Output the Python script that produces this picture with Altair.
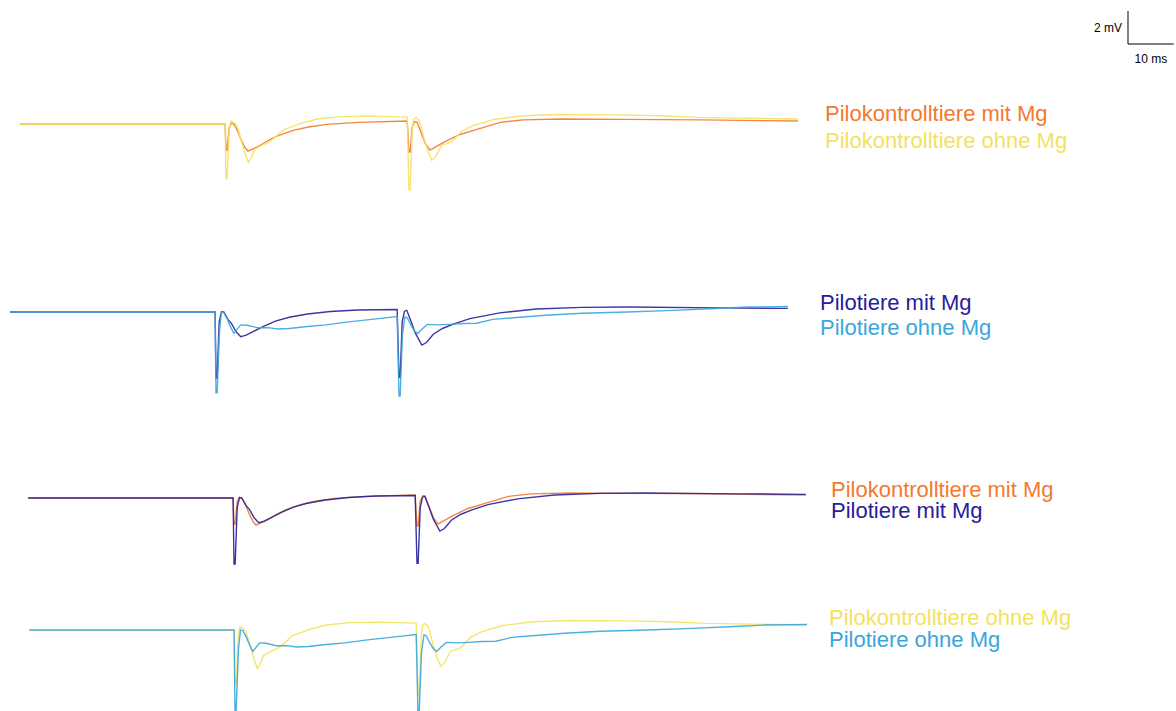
import altair as alt
import pandas as pd

# Paired-pulse field potentials (stimuli at 0 ms and 40 ms), averaged traces.
# Times in ms after the first stimulus, amplitudes in mV relative to baseline.

KONTROLLE_MIT_T = [-45, -0.2, 0, 0.25, 0.7, 1.2, 1.7, 2.5, 3.3, 4.1, 4.8, 6.0, 7.5, 9.2, 11.0,
                   14.5, 18.0, 22.0, 29.0, 39.6, 40.0, 40.25, 40.7, 41.3, 41.8, 42.6, 43.6, 44.6,
                   46.0, 48.0, 51.0, 54.5, 60.0, 65.0, 73.0, 87.0, 104.0, 125.0]
KONTROLLE_MIT_V = [0, 0, -1.6, -1.6, -0.2, 0.05, 0.0, -0.4, -0.95, -1.4, -1.64, -1.5, -1.3, -1.0, -0.75,
                   -0.4, -0.18, -0.02, 0.1, 0.18, -1.7, -1.7, -0.2, 0.15, 0.1, -0.5, -1.2, -1.58,
                   -1.35, -1.05, -0.65, -0.36, 0.1, 0.25, 0.3, 0.28, 0.25, 0.18]

KONTROLLE_OHNE_T = [-45, -0.2, 0, 0.25, 0.7, 1.1, 1.7, 2.4, 3.2, 4.2, 4.9, 5.6, 6.2, 7.8, 9.4, 11.0,
                    12.5, 16.5, 20.0, 25.0, 31.5, 39.6, 40.0, 40.25, 40.7, 41.0, 41.6, 42.3, 43.4,
                    44.2, 45.0, 45.9, 47.1, 49.3, 51.5, 54.0, 58.5, 65.0, 73.0, 85.0, 95.0, 103.0, 125.0]
KONTROLLE_OHNE_V = [0, 0, -3.3, -3.3, -0.3, 0.18, 0.12, -0.1, -0.85, -1.8, -2.33, -2.0, -1.55, -1.3, -1.1, -0.75,
                    -0.35, 0.05, 0.3, 0.45, 0.48, 0.42, -4.0, -4.0, -0.4, 0.3, 0.4, 0.18, -1.0,
                    -1.7, -2.2, -1.95, -1.3, -1.08, -0.45, -0.1, 0.27, 0.5, 0.58, 0.55, 0.5, 0.4, 0.3]

PILO_MIT_T = [-45, -0.2, 0, 0.25, 0.7, 1.2, 1.7, 2.6, 3.4, 4.4, 5.4, 6.6, 8.0, 10.5, 13.0, 16.0,
              20.0, 25.0, 31.0, 39.6, 40.0, 40.25, 40.7, 41.2, 41.7, 42.6, 43.6, 45.0, 46.0, 47.5,
              49.5, 52.0, 55.5, 62.0, 70.0, 80.0, 90.0, 110.0, 125.0]
PILO_MIT_V = [0, 0, -4.0, -4.0, -0.6, 0.02, 0.0, -0.45, -0.7, -1.2, -1.5, -1.4, -1.2, -0.85, -0.55, -0.32,
              -0.12, 0.03, 0.12, 0.15, -3.95, -3.95, -0.6, 0.05, 0.1, -0.55, -1.3, -2.0, -1.85, -1.35,
              -1.0, -0.72, -0.4, -0.05, 0.18, 0.28, 0.3, 0.25, 0.22]

PILO_OHNE_T = [-45, -0.2, 0, 0.25, 0.75, 1.2, 1.7, 2.5, 3.2, 3.9, 4.6, 5.4, 6.8, 9.0, 11.4, 13.5,
               16.0, 20.0, 24.0, 29.0, 34.0, 39.6, 40.0, 40.25, 40.75, 41.3, 41.8, 42.6, 43.4, 44.1,
               45.0, 46.2, 48.5, 51.0, 54.0, 57.0, 60.5, 65.0, 72.0, 80.0, 90.0, 100.0, 108.0, 116.0, 125.0]
PILO_OHNE_V = [0, 0, -4.9, -4.9, -1.2, 0.0, -0.03, -0.45, -0.9, -1.3, -1.05, -0.78, -0.8, -0.95, -0.95, -1.03,
               -1.0, -0.88, -0.78, -0.6, -0.45, -0.28, -5.1, -5.1, -1.4, -0.3, -0.35, -0.8, -1.15, -1.3,
               -1.05, -0.75, -0.78, -0.75, -0.7, -0.68, -0.45, -0.35, -0.2, -0.08, 0.0, 0.1, 0.2, 0.3, 0.33]

GROUPS = ["Pilokontrolltiere mit Mg", "Pilokontrolltiere ohne Mg", "Pilotiere mit Mg", "Pilotiere ohne Mg"]
TRACES = {
    GROUPS[0]: (KONTROLLE_MIT_T, KONTROLLE_MIT_V),
    GROUPS[1]: (KONTROLLE_OHNE_T, KONTROLLE_OHNE_V),
    GROUPS[2]: (PILO_MIT_T, PILO_MIT_V),
    GROUPS[3]: (PILO_OHNE_T, PILO_OHNE_V),
}
COLORS = {
    GROUPS[0]: "#f4792e",
    GROUPS[1]: "#f3e25e",
    GROUPS[2]: "#27209a",
    GROUPS[3]: "#3aa6dc",
}

SCALE_MS = 10
SCALE_MV = 2

# page geometry
W = 1176
PX_PER_MS = 4.575
PX_PER_MV = 16.5
FONT = "Liberation Sans"


def scales(stim_px, top_px, height):
    xs = alt.Scale(domain=[-stim_px / PX_PER_MS, (W - stim_px) / PX_PER_MS], nice=False, zero=False)
    ys = alt.Scale(domain=[-(height - top_px) / PX_PER_MV, top_px / PX_PER_MV], nice=False, zero=False)
    return xs, ys


def panel(groups, stim_px, top_px, height, label_x, label_ys):
    xs, ys = scales(stim_px, top_px, height)
    layers = []
    for g in groups:
        t, v = TRACES[g]
        df = pd.DataFrame({"t": t, "v": v})
        layers.append(
            alt.Chart(df).mark_line(color=COLORS[g], strokeWidth=1.4, opacity=0.9, clip=False).encode(
                x=alt.X("t:Q", scale=xs, axis=None),
                y=alt.Y("v:Q", scale=ys, axis=None),
            )
        )
    label_order = [g for g in GROUPS if g in groups]
    for g, ly in zip(label_order, label_ys):
        layers.append(
            alt.Chart(pd.DataFrame({"name": [g]})).mark_text(
                align="left", baseline="middle", font=FONT, fontSize=22, color=COLORS[g]
            ).encode(x=alt.value(label_x), y=alt.value(ly), text="name:N")
        )
    return alt.layer(*layers).properties(width=W, height=height)


# scale bar row
bar_xs, bar_ys = scales(1128, 44, 80)
bar_df = pd.DataFrame({"t": [0, 0], "t2": [0, SCALE_MS], "v": [0, 0], "v2": [SCALE_MV, 0]})
bar = alt.Chart(bar_df).mark_rule(color="black", strokeWidth=1).encode(
    x=alt.X("t:Q", scale=bar_xs, axis=None),
    x2="t2:Q",
    y=alt.Y("v:Q", scale=bar_ys, axis=None),
    y2="v2:Q",
)
bar_labels = pd.DataFrame({
    "t": [-1.3, SCALE_MS / 2],
    "v": [SCALE_MV / 2, -0.9],
    "txt": [f"{SCALE_MV} mV", f"{SCALE_MS} ms"],
    "al": ["right", "center"],
})
bar_text_mv = alt.Chart(bar_labels.iloc[[0]]).mark_text(
    align="right", baseline="middle", font=FONT, fontSize=12, color="black"
).encode(x=alt.X("t:Q", scale=bar_xs, axis=None), y=alt.Y("v:Q", scale=bar_ys, axis=None), text="txt:N")
bar_text_ms = alt.Chart(bar_labels.iloc[[1]]).mark_text(
    align="center", baseline="middle", font=FONT, fontSize=12, color="black"
).encode(x=alt.X("t:Q", scale=bar_xs, axis=None), y=alt.Y("v:Q", scale=bar_ys, axis=None), text="txt:N")
row0 = alt.layer(bar, bar_text_mv, bar_text_ms).properties(width=W, height=80)

row1 = panel([GROUPS[0], GROUPS[1]], 226, 44, 145, 825, [34, 61])
row2 = panel([GROUPS[2], GROUPS[3]], 216, 87, 190, 820, [78, 103])
row3 = panel([GROUPS[0], GROUPS[2]], 234, 83, 165, 831, [75, 96])
row4 = panel([GROUPS[1], GROUPS[3]], 235, 50, 131, 829, [38, 60])

chart = (
    alt.vconcat(row0, row1, row2, row3, row4, spacing=0)
    .resolve_scale(x="independent", y="independent")
    .properties(padding=0, background="white")
    .configure_view(stroke=None)
)

chart.save("out.html", embed_options={"renderer": "svg", "actions": False})
